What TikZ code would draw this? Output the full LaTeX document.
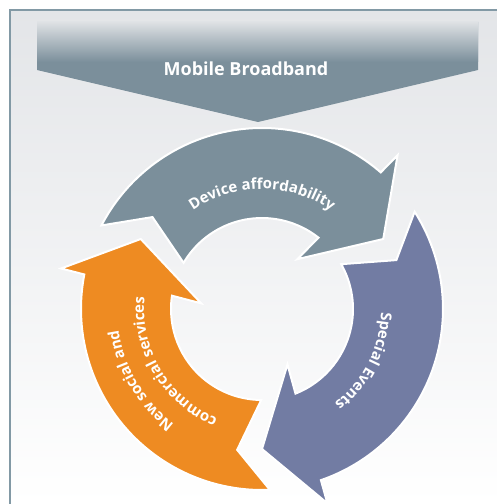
\documentclass[tikz,border=0pt]{standalone}
\usepackage{fontspec}
\setmainfont{Open Sans}
\usetikzlibrary{decorations.text}

\definecolor{slategray}{HTML}{7B8F9B}
\definecolor{eventblue}{HTML}{727CA3}
\definecolor{serviceorange}{HTML}{EE8B22}
\definecolor{framegray}{HTML}{8299A5}
\definecolor{paneltop}{HTML}{E3E5E8}
\definecolor{bannertop}{HTML}{DEE1E4}

\newcommand{\labelfont}{\fontsize{15}{18}\selectfont\bfseries}

\tikzset{
  cyclearrow/.style={draw=white, line width=2, line join=miter, fill=#1},
  arclabel/.style={decorate, decoration={text along path, text align=center,
      text color=white, text={|\labelfont|#1}}},
}

\begin{document}
\begin{tikzpicture}[x=1pt, y=1pt]
    \useasboundingbox (0,0) rectangle (497,504);
    \clip (0,0) rectangle (497,504);

    % Panel with soft vertical gradient and frame on top/left
    \shade[top color=paneltop, bottom color=white] (10,0) rectangle (520,494);
    \draw[framegray, line width=1.2] (10,-5) -- (10,494) -- (520,494);

    % Mobile Broadband banner
    \fill[slategray] (37,482) -- (478,482) -- (478,434) -- (258,382) -- (37,434) -- cycle;
    \shade[top color=bannertop, bottom color=slategray] (37,482) rectangle (478,442);
    \node[anchor=base, text=white, font=\fontsize{18}{22}\selectfont\bfseries] (banner) at (246,428) {Mobile Broadband};

    % Cycle of three arrows around the centre
    \begin{scope}[shift={(262,195)}]
        \foreach \tip/\col in {30/slategray, -90/eventblue, 150/serviceorange}
            \filldraw[cyclearrow=\col] (\tip+122.5:181) arc[start angle=\tip+122.5, end angle=\tip+19, radius=181]
                -- (\tip+18.6:205) -- (\tip:140) -- (\tip+24.7:61) -- (\tip+21.6:91)
                arc[start angle=\tip+21.6, end angle=\tip+119.5, radius=91] -- (\tip+110:143) -- cycle;

        % Labels along the arrows
        \path[arclabel={Device affordability}] (140:120) arc[start angle=140, end angle=40, radius=120];
        \path[arclabel={Special Events}] (23:119) arc[start angle=23, end angle=-77, radius=119];
        \path[arclabel={New social and}] (260.5:145) arc[start angle=260.5, end angle=160.5, radius=145];
        \path[arclabel={commercial services}] (261:118) arc[start angle=261, end angle=161, radius=118];
    \end{scope}

\end{tikzpicture}
\end{document}
